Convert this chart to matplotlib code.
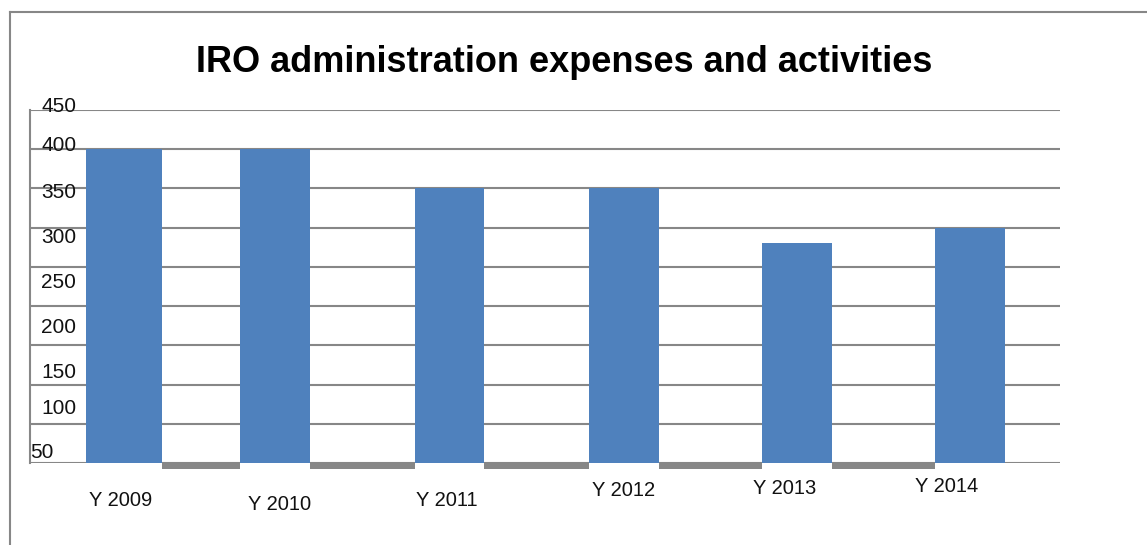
import numpy as np
import matplotlib
matplotlib.use('Agg')
import matplotlib.pyplot as plt
from matplotlib.lines import Line2D

# data
years = ['Y 2009', 'Y 2010', 'Y 2011', 'Y 2012', 'Y 2013', 'Y 2014']
expenses = [400, 400, 350, 350, 280, 300]
gap_vals = [-8, -8, -8, -8, -8]          # grey strips under the baseline
ytick_vals = [450, 400, 350, 300, 250, 200, 150, 100, 50]
grid_vals = [0, 50, 100, 150, 200, 250, 300, 350, 400, 450]

# layout (hand placed in the original)
xpos = [0.135, 1, 2, 3, 3.99, 4.985]
widths = [0.435, 0.40, 0.40, 0.40, 0.40, 0.40]
ylab_shift = [4, 5, -5, -12, -20, -27, -35, -30, -37]   # data units
xlab_off = [(-3, -37), (5, -42), (-3, -38), (0, -28), (-12, -25), (-24, -23)]  # pixels

blue = '#4f81bd'
grey = '#878787'

W, H = 1147, 545
fig = plt.figure(figsize=(W/100., H/100.), dpi=100)
ax = fig.add_axes([30./W, (H-463.)/H, 1030./W, 353./H])
ax.set_xlim(-0.404, 5.499)
ax.set_ylim(0, 450)

for s in ['top', 'right', 'bottom']:
    ax.spines[s].set_visible(False)
ax.spines['left'].set_color(grey)
ax.spines['left'].set_linewidth(1.5)
ax.set_xticks([])
ax.set_yticks([])

for g in grid_vals:
    ax.axhline(g, color=grey, lw=1.5, zorder=1)

ax.bar(xpos, expenses, width=widths, color=blue, zorder=2)

lefts = [xpos[i] + widths[i]/2. for i in range(len(gap_vals))]
rights = [xpos[i+1] - widths[i+1]/2. for i in range(len(gap_vals))]
ax.bar(lefts, gap_vals, width=np.array(rights) - np.array(lefts), align='edge',
       color=grey, zorder=2, clip_on=False)

for v, d in zip(ytick_vals, ylab_shift):
    xl = -0.34 if v != 50 else -0.405
    ax.text(xl, v + d, str(v), ha='left', va='center', fontsize=15,
            family='Liberation Sans', color='#111111', zorder=3)

for x, lab, off in zip(xpos, years, xlab_off):
    ax.annotate(lab, xy=(x, 0), xytext=off, textcoords='offset pixels',
                ha='center', va='center', fontsize=14.5, family='Liberation Sans',
                color='#111111', annotation_clip=False)

fig.text(564./W, 1 - 62./H, 'IRO administration expenses and activities',
         ha='center', va='center', fontsize=26, fontweight='bold',
         family=['Liberation Sans Narrow', 'Liberation Sans'])

# outer frame (left and top only)
fig.add_artist(Line2D([10./W, 10./W], [0, 1 - 12./H], color=grey, lw=1.5))
fig.add_artist(Line2D([10./W, 1], [1 - 12./H, 1 - 12./H], color=grey, lw=1.5))

fig.savefig('out.png', dpi=100)
